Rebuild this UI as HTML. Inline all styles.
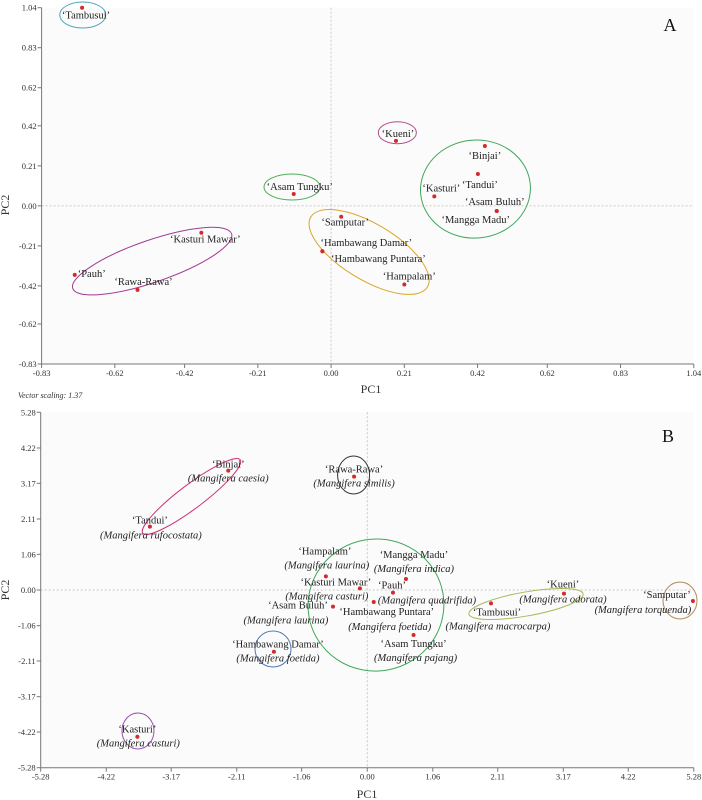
<!DOCTYPE html>
<html><head><meta charset="utf-8"><style>
html,body{margin:0;padding:0;background:#fff;}
svg{display:block;}
text{font-family:"Liberation Serif","Times New Roman",serif;}
.tick{font-size:8.5px;fill:#333;}
.lbl{font-size:10.5px;fill:#222;}
.sp{font-size:10.5px;fill:#222;font-style:italic;}
</style></head><body>
<svg id="chart" width="702" height="800" viewBox="0 0 702 800" xmlns="http://www.w3.org/2000/svg"></svg>
<script>
// Panel A data
const aNames = ["‘Tambusui’","‘Kueni’","‘Binjai’","‘Tandui’","‘Kasturi’","‘Asam Buluh’","‘Mangga Madu’","‘Asam Tungku’","‘Samputar’","‘Hambawang Damar’","‘Hambawang Puntara’","‘Hampalam’","‘Kasturi Mawar’","‘Pauh’","‘Rawa-Rawa’"];
const aPC1 = [-0.714,0.186,0.441,0.421,0.296,0.475,0.475,-0.107,0.029,-0.025,-0.025,0.21,-0.372,-0.735,-0.555];
const aPC2 = [1.04,0.341,0.314,0.167,0.05,-0.027,-0.027,0.062,-0.057,-0.238,-0.238,-0.413,-0.141,-0.362,-0.441];
const aTicks = ["-0.83","-0.62","-0.42","-0.21","0.00","0.21","0.42","0.62","0.83","1.04"];
const aTickVals = [-0.83,-0.62,-0.42,-0.21,0,0.21,0.42,0.62,0.83,1.04];
// Panel B data
const bNames = ["‘Binjai’","‘Rawa-Rawa’","‘Tandui’","‘Hampalam’","‘Mangga Madu’","‘Kasturi Mawar’","‘Pauh’","‘Asam Buluh’","‘Hambawang Puntara’","‘Asam Tungku’","‘Hambawang Damar’","‘Kasturi’","‘Kueni’","‘Tambusui’","‘Samputar’"];
const bSpecies = ["(Mangifera caesia)","(Mangifera similis)","(Mangifera rufocostata)","(Mangifera laurina)","(Mangifera indica)","(Mangifera casturi)","(Mangifera quadrifida)","(Mangifera laurina)","(Mangifera foetida)","(Mangifera pajang)","(Mangifera foetida)","(Mangifera casturi)","(Mangifera odorata)","(Mangifera macrocarpa)","(Mangifera torquenda)"];
const bPC1 = [-2.247,-0.213,-3.514,-0.669,0.626,-0.119,0.416,-0.554,0.105,0.749,-1.509,-3.717,3.181,2.001,5.266];
const bPC2 = [3.546,3.368,1.882,0.406,0.327,0.05,-0.079,-0.495,-0.357,-1.337,-1.833,-4.359,-0.109,-0.396,-0.327];
const bTicks = ["-5.28","-4.22","-3.17","-2.11","-1.06","0.00","1.06","2.11","3.17","4.22","5.28"];
const bTickVals = [-5.28,-4.22,-3.17,-2.11,-1.06,0,1.06,2.11,3.17,4.22,5.28];

// layout (pixel offsets for labels, not data)
const aOff = [[4,7],[2,-8],[0,9],[2,10],[7,-9],[-2,-10],[-21,8],[6,-8],[4,5],[44,-9],[56,7],[5,-9],[4,6],[17,-2],[6,-9]];
const bOff = [[0,-7,0,7],[0,-8,0,6],[0,-7,1,8],[-1,-26,1,-12],[8,-25,8,-11],[-24,-7,-33,7],[-1,-8,34,7],[-35,-2,-47,13],[13,9,16,24],[0,8,2,22],[4,-8,4,6],[0,-8,1,6],[-1,-10,-1,5],[6,8,7,22],[-26,-7,-50,8]];
const aEll = [[-0.712,1.002,23,13,0,"#4aa6b8"],[0.19,0.384,19,11,0,"#b0508f"],[0.414,0.088,55,49,-5,"#3fa65a"],[-0.112,0.099,28,13,0,"#4fae55"],[0.109,-0.242,68,28,31,"#d8a62a"],[-0.513,-0.29,84,21,-19,"#a13a8f"]];
const bEll = [[-2.842,2.778,61,12,-37,"#d0307a"],[-0.221,3.417,16,19,0,"#333"],[0.141,-0.446,68,66,-10,"#3fa65a"],[-1.524,-1.753,18,18,0,"#4d79b5"],[-3.707,-4.189,16,18,0,"#9a4fb0"],[2.567,-0.416,58,12,-10,"#a9b85a"],[5.057,-0.312,17,18.5,0,"#b08a5a"]];

const svg=document.getElementById('chart');
const NS="http://www.w3.org/2000/svg";
function mk(tag,attrs,parent){const e=document.createElementNS(NS,tag);for(const k in attrs)e.setAttribute(k,attrs[k]);if(tag==='text')e.setAttribute('font-family','Liberation Serif, serif');(parent||svg).appendChild(e);return e;}

function panel(cfg){
  const {id,L,R,T,B,vmin,vmax}=cfg;
  const g=mk('g',{});
  
  
  const sx=v=>L+(v-vmin[0])/(vmax[0]-vmin[0])*(R-L);
  const sy=v=>B-(v-vmin[1])/(vmax[1]-vmin[1])*(B-T);
  const bg=mk('rect',{x:L,y:T,width:R-L,height:B-T,fill:'#fbfbfb'},g);
  
  
  const zx=mk('line',{x1:sx(0),x2:sx(0),y1:T,y2:B,stroke:'#bbb','stroke-width':0.8,'stroke-dasharray':'2,2'},g);
  
  
  const zy=mk('line',{x1:L,x2:R,y1:sy(0),y2:sy(0),stroke:'#bbb','stroke-width':0.8,'stroke-dasharray':'2,2'},g);
  
  
  const ax=mk('line',{x1:L,x2:R,y1:B,y2:B,stroke:'#777','stroke-width':1},g);
  
  
  const ay=mk('line',{x1:L,x2:L,y1:T,y2:B,stroke:'#777','stroke-width':1},g);
  
  
  cfg.tickVals.forEach((v,i)=>{
    mk('line',{x1:sx(v),x2:sx(v),y1:B,y2:B+4,stroke:'#777'},g);
    const t=mk('text',{x:sx(v),y:B+12,'text-anchor':'middle',class:'tick'},g);t.textContent=cfg.ticks[i];
    
    
    mk('line',{x1:L-4,x2:L,y1:sy(v),y2:sy(v),stroke:'#777'},g);
    const u=mk('text',{x:L-5,y:sy(v)+3,'text-anchor':'end',class:'tick'},g);u.textContent=cfg.ticks[i];
    
    
  });
  cfg.ells.forEach(e=>{
    const el=mk('ellipse',{cx:sx(e[0]),cy:sy(e[1]),rx:e[2],ry:e[3],fill:'none',stroke:e[5],'stroke-width':1,transform:`rotate(${e[4]} ${sx(e[0])} ${sy(e[1])})`},g);
    
    
  });
  cfg.px.forEach((v,i)=>{
    const cx=sx(v),cy=sy(cfg.py[i]);
    const c=mk('circle',{cx:cx,cy:cy,r:2,fill:'#d42a2a'},g);
    
    
    const o=cfg.off[i];
    const t=mk('text',{x:cx+o[0],y:cy+o[1]+4,'text-anchor':'middle',class:'lbl'},g);t.textContent=cfg.names[i];
    
    
    if(cfg.species){
      const s=mk('text',{x:cx+o[2],y:cy+o[3]+4,'text-anchor':'middle',class:'sp'},g);s.textContent=cfg.species[i];
      
      
    }
  });
  const p1=mk('text',{x:cfg.pc1[0],y:cfg.pc1[1],'text-anchor':'middle','font-size':12,fill:'#333'},g);p1.textContent='PC1';
  
  
  const p2=mk('text',{x:0,y:0,'text-anchor':'middle','font-size':12,fill:'#333',transform:`translate(${cfg.pc2[0]} ${cfg.pc2[1]}) rotate(-90)`},g);p2.textContent='PC2';
  
  
  const pl=mk('text',{x:cfg.letter[0],y:cfg.letter[1],'text-anchor':'middle','font-size':18,fill:'#111'},g);pl.textContent=cfg.letterText;
  
  
}
panel({id:'panel-a',L:41.6,R:693.8,T:7.7,B:364,vmin:[-0.83,-0.83],vmax:[1.04,1.04],ticks:aTicks,tickVals:aTickVals,ells:aEll,px:aPC1,py:aPC2,names:aNames,off:aOff,pc1:[371,393],pc2:[9,205],letter:[670,31],letterText:'A'});
panel({id:'panel-b',L:40.7,R:693.8,T:412.3,B:767.7,vmin:[-5.28,-5.28],vmax:[5.28,5.28],ticks:bTicks,tickVals:bTickVals,ells:bEll,px:bPC1,py:bPC2,names:bNames,species:bSpecies,off:bOff,pc1:[367,798],pc2:[9,590],letter:[668,442],letterText:'B'});
const vs=mk('text',{x:18,y:398,'font-size':8,'font-style':'italic',fill:'#333'});vs.textContent='Vector scaling: 1.37';


</script>
</body></html>
